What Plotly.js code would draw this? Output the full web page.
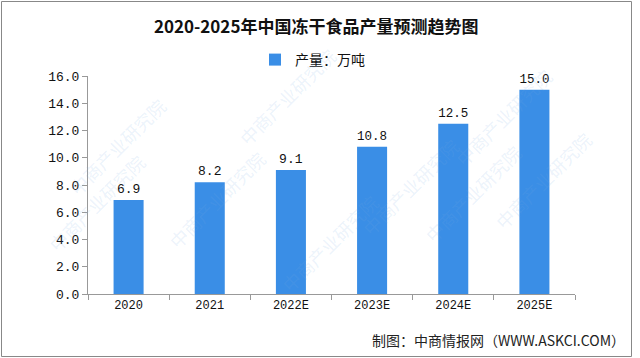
<!DOCTYPE html>
<html><head><meta charset="utf-8">
<script src="https://cdn.plot.ly/plotly-3.0.1.min.js"></script>
<style>body{margin:0;background:#fff}#c{width:640px;height:358px}</style>
</head><body><div id="c"></div>
<script>
const categories = ["2020","2021","2022E","2023E","2024E","2025E"];
const production = [6.9, 8.2, 9.1, 10.8, 12.5, 15.0];
const seriesName = "产量：万吨";
const yTicks = [0,2,4,6,8,10,12,14,16];

const L=88, R=575, T=76, B=294;
const px = x => (x-L)/(R-L);
const py = y => (B-y)/(B-T);

const wm = [];
const wmPos = [[60,90],[160,200],[230,40],[330,300],[410,130],[560,60],[530,250],[40,260],[600,180]];
wmPos.forEach(p=>wm.push({xref:'paper',yref:'paper',x:px(p[0]),y:py(p[1]),text:'中商产业研究院',showarrow:false,textangle:-45,
  font:{family:'Noto Sans CJK SC',size:18,color:'rgba(120,170,225,0.15)'}}));

const mono = "Liberation Mono, DejaVu Sans Mono, monospace";
Plotly.newPlot('c',[{
  type:'bar', x:categories, y:production, name:seriesName,
  marker:{color:'#3a8ee6'}, text:production.map(v=>v.toFixed(1)), textposition:'outside',
  textfont:{family:mono,size:13,color:'#111'}, cliponaxis:false, hoverinfo:'none'
}],{
  width:640,height:358,margin:{l:L,r:640-R,t:T,b:358-B},
  paper_bgcolor:'#fff',plot_bgcolor:'#fff',
  title:{text:'2020-2025年中国冻干食品产量预测趋势图',x:0.494,xanchor:'center',y:0.925,yanchor:'middle',
    font:{family:'Noto Sans CJK SC',size:17,color:'#111',weight:'bold'}},
  bargap:0.63,
  showlegend:true,
  legend:{orientation:'h',x:px(255),xanchor:'left',y:py(60),yanchor:'middle',
    font:{family:'Noto Sans CJK SC',size:14,color:'#111'},itemwidth:30,bgcolor:'rgba(0,0,0,0)'},
  xaxis:{type:'category',showline:true,linecolor:'#999',linewidth:1,ticks:'outside',tickson:'boundaries',
    ticklen:5,tickcolor:'#999',showgrid:false,tickfont:{family:mono,size:12,color:'#111'},fixedrange:true},
  yaxis:{range:[0,16],tickvals:yTicks,ticktext:yTicks.map(v=>v.toFixed(1)),showline:true,linecolor:'#999',linewidth:1,
    ticks:'outside',ticklen:5,tickcolor:'#999',showgrid:false,zeroline:false,
    tickfont:{family:mono,size:13,color:'#111'},fixedrange:true},
  annotations: wm.concat([{xref:'paper',yref:'paper',x:px(627),y:py(340),xanchor:'right',yanchor:'middle',showarrow:false,
    text:'制图：中商情报网（WWW.ASKCI.COM）',font:{family:'Noto Sans CJK SC',size:14,color:'#222'}}]),
  shapes:[{type:'rect',xref:'paper',yref:'paper',x0:px(1.5),x1:px(631.5),y0:py(356.5),y1:py(1.5),line:{color:'#888',width:1},fillcolor:'rgba(0,0,0,0)',layer:'below'}]
},{staticPlot:true});
</script></body></html>
